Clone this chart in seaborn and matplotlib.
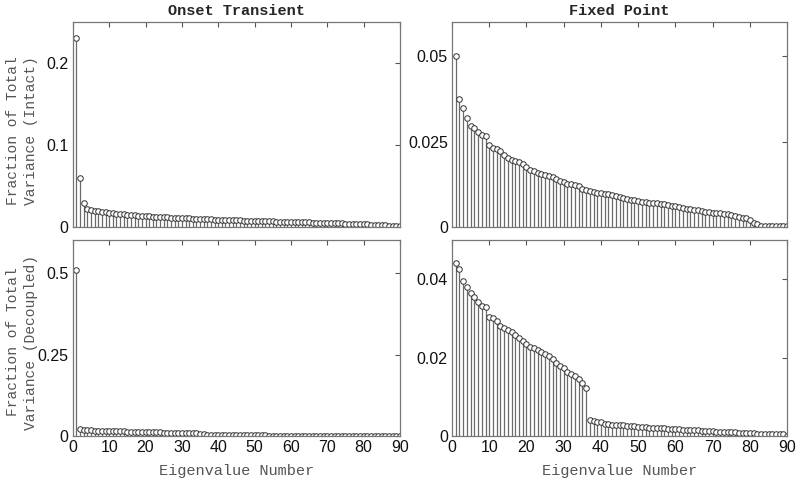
import numpy as np
import pandas as pd
import seaborn as sns
import matplotlib.pyplot as plt

# eigenvalue index
eig_num = list(range(1, 91))

# Onset transient, intact
onset_intact = [
    0.230, 0.060, 0.029, 0.022, 0.0205, 0.0198, 0.0190, 0.0183, 0.0177, 0.0172,
    0.0167, 0.0162, 0.0158, 0.0154, 0.0150, 0.0146, 0.0142, 0.0139, 0.0135, 0.0132,
    0.0129, 0.0126, 0.0123, 0.0120, 0.0118, 0.0115, 0.0113, 0.0111, 0.0109, 0.0107,
    0.0105, 0.0103, 0.0101, 0.0099, 0.0097, 0.0095, 0.0093, 0.0092, 0.0090, 0.0089,
    0.0087, 0.0086, 0.0084, 0.0083, 0.0081, 0.0080, 0.0078, 0.0077, 0.0075, 0.0074,
    0.0072, 0.0071, 0.0070, 0.0068, 0.0067, 0.0066, 0.0064, 0.0063, 0.0062, 0.0060,
    0.0059, 0.0058, 0.0056, 0.0055, 0.0054, 0.0052, 0.0051, 0.0050, 0.0048, 0.0047,
    0.0046, 0.0044, 0.0043, 0.0042, 0.0040, 0.0039, 0.0037, 0.0036, 0.0034, 0.0033,
    0.0031, 0.0029, 0.0027, 0.0025, 0.0022, 0.0020, 0.0017, 0.0014, 0.0010, 0.0006,
]

# Fixed point, intact
fixed_intact = [
    0.0500, 0.0374, 0.0347, 0.0318, 0.0296, 0.0289, 0.0277, 0.0270, 0.0267, 0.0239,
    0.0232, 0.0227, 0.0221, 0.0210, 0.0201, 0.0196, 0.0193, 0.0189, 0.0183, 0.0174,
    0.0168, 0.0163, 0.0158, 0.0155, 0.0153, 0.0149, 0.0146, 0.0140, 0.0134, 0.0132,
    0.0127, 0.0125, 0.0123, 0.0120, 0.0111, 0.0108, 0.0104, 0.0101, 0.0100, 0.0098,
    0.0096, 0.0095, 0.0092, 0.0090, 0.0088, 0.0086, 0.0083, 0.0080, 0.0078, 0.0076,
    0.0074, 0.0072, 0.0071, 0.0069, 0.0069, 0.0068, 0.0066, 0.0063, 0.0061, 0.0060,
    0.0058, 0.0055, 0.0053, 0.0052, 0.0050, 0.0049, 0.0047, 0.0045, 0.0044, 0.0042,
    0.0041, 0.0040, 0.0038, 0.0037, 0.0035, 0.0033, 0.0030, 0.0027, 0.0025, 0.0019,
    0.0012, 0.0008, 0.0004, 0.0004, 0.0004, 0.0003, 0.0003, 0.0003, 0.0002, 0.0002,
]

# Onset transient, decoupled
onset_decoupled = [
    0.510, 0.021, 0.019, 0.0185, 0.0180, 0.0176, 0.0172, 0.0168, 0.0164, 0.0160,
    0.0157, 0.0154, 0.0150, 0.0147, 0.0144, 0.0141, 0.0138, 0.0135, 0.0132, 0.0129,
    0.0126, 0.0123, 0.0120, 0.0117, 0.0114, 0.0111, 0.0108, 0.0105, 0.0102, 0.0099,
    0.0096, 0.0093, 0.0090, 0.0087, 0.0084, 0.0080, 0.0032, 0.0031, 0.0031, 0.0030,
    0.0030, 0.0029, 0.0029, 0.0028, 0.0028, 0.0027, 0.0027, 0.0026, 0.0026, 0.0025,
    0.0025, 0.0024, 0.0024, 0.0023, 0.0023, 0.0022, 0.0022, 0.0021, 0.0021, 0.0020,
    0.0020, 0.0019, 0.0019, 0.0018, 0.0018, 0.0017, 0.0017, 0.0016, 0.0016, 0.0015,
    0.0015, 0.0014, 0.0014, 0.0013, 0.0013, 0.0012, 0.0012, 0.0012, 0.0011, 0.0011,
    0.0011, 0.0010, 0.0010, 0.0010, 0.0009, 0.0009, 0.0009, 0.0008, 0.0008, 0.0008,
]

# Fixed point, decoupled
fixed_decoupled = [
    0.0442, 0.0427, 0.0397, 0.0380, 0.0365, 0.0356, 0.0343, 0.0332, 0.0329, 0.0305,
    0.0301, 0.0293, 0.0282, 0.0276, 0.0270, 0.0265, 0.0257, 0.0250, 0.0243, 0.0234,
    0.0227, 0.0224, 0.0221, 0.0215, 0.0209, 0.0205, 0.0196, 0.0188, 0.0178, 0.0173,
    0.0165, 0.0159, 0.0154, 0.0147, 0.0137, 0.0123, 0.0042, 0.0039, 0.0037, 0.0036,
    0.0032, 0.0031, 0.0030, 0.0029, 0.0028, 0.0028, 0.0027, 0.0026, 0.0025, 0.0024,
    0.0023, 0.0023, 0.0022, 0.0021, 0.0021, 0.0020, 0.0020, 0.0019, 0.0019, 0.0018,
    0.0018, 0.0017, 0.0016, 0.0016, 0.0015, 0.0015, 0.0014, 0.0014, 0.0013, 0.0013,
    0.0012, 0.0012, 0.0011, 0.0011, 0.0010, 0.0010, 0.0009, 0.0009, 0.0008, 0.0008,
    0.0008, 0.0007, 0.0007, 0.0007, 0.0006, 0.0006, 0.0006, 0.0006, 0.0005, 0.0001,
]

sns.set_style("white")
plt.rcParams["font.family"] = ["Liberation Sans", "DejaVu Sans"]

fig = plt.figure(figsize=(8, 4.88), dpi=100)
ax_tl = fig.add_axes([0.091, 0.535, 0.409, 0.420])
ax_tr = fig.add_axes([0.565, 0.535, 0.419, 0.420])
ax_bl = fig.add_axes([0.091, 0.106, 0.409, 0.402])
ax_br = fig.add_axes([0.565, 0.106, 0.419, 0.402])

panels = [
    (ax_tl, onset_intact, 0.25, [0, 0.1, 0.2], ["0", "0.1", "0.2"]),
    (ax_tr, fixed_intact, 0.06, [0, 0.025, 0.05], ["0", "0.025", "0.05"]),
    (ax_bl, onset_decoupled, 0.6, [0, 0.25, 0.5], ["0", "0.25", "0.5"]),
    (ax_br, fixed_decoupled, 0.05, [0, 0.02, 0.04], ["0", "0.02", "0.04"]),
]

mono = ["Liberation Mono", "DejaVu Sans Mono"]
grey = "#555555"

for ax, vals, ymax, yt, ytl in panels:
    df = pd.DataFrame({"n": eig_num, "v": vals})
    ax.vlines(df["n"], 0, df["v"], color="#6a6a6a", linewidth=0.9, zorder=1)
    sns.scatterplot(data=df, x="n", y="v", ax=ax, marker="o", s=16,
                    facecolor="white", edgecolor="#333333", linewidth=0.7,
                    zorder=2, legend=False)
    ax.set_xlim(0, 90)
    ax.set_ylim(0, ymax)
    ax.set_xticks(range(0, 91, 10))
    ax.set_yticks(yt)
    ax.set_yticklabels(ytl)
    ax.set_xlabel("")
    ax.set_ylabel("")
    ax.tick_params(direction="in", top=True, right=True, length=3.5,
                   width=0.8, color=grey, labelsize=11.5, labelcolor="#111111",
                   pad=3)
    for sp in ax.spines.values():
        sp.set_color("#777777")
        sp.set_linewidth(0.9)

for ax in (ax_tl, ax_tr):
    ax.set_xticklabels([])

ax_tl.set_title("Onset Transient", family=mono, fontweight="bold",
                fontsize=11, pad=5)
ax_tr.set_title("Fixed Point", family=mono, fontweight="bold",
                fontsize=11, pad=5)

ax_tl.set_ylabel("Fraction of Total\nVariance (Intact)", family=mono,
                 fontsize=10.5, color=grey, linespacing=1.3)
ax_bl.set_ylabel("Fraction of Total\nVariance (Decoupled)", family=mono,
                 fontsize=10.5, color=grey, linespacing=1.3)
ax_tl.yaxis.set_label_coords(-0.107, 0.47)
ax_bl.yaxis.set_label_coords(-0.107, 0.48)
for ax in (ax_bl, ax_br):
    ax.set_xlabel("Eigenvalue Number", family=mono, fontsize=11,
                  color=grey, labelpad=6)

fig.savefig("out.png", dpi=100)
